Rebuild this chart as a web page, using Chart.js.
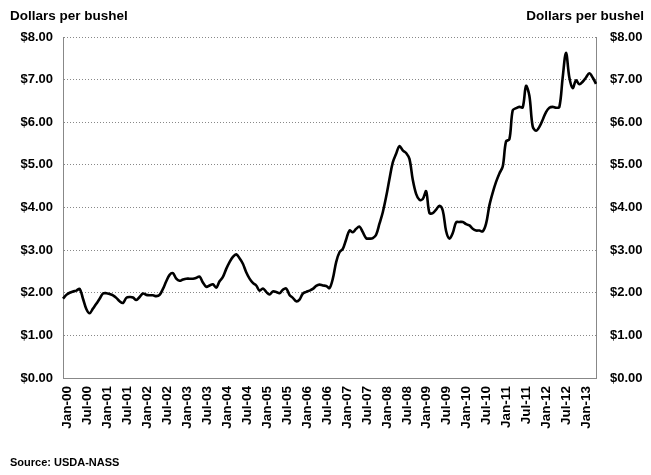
<!DOCTYPE html>
<html>
<head>
    <title>Dollars per bushel</title>
    <script src="https://cdn.jsdelivr.net/npm/chart.js"></script>
    <style>
        body { margin: 0; background: #fff; }
    </style>
</head>
<body>
    <canvas id="chart" width="651" height="475"></canvas>

    <script>
    // monthly prices, Jan-00 .. May-13
    const startYear = 2000;
    const monthNames = ['Jan','Feb','Mar','Apr','May','Jun','Jul','Aug','Sep','Oct','Nov','Dec'];

    const prices = [
        1.86, 1.95, 2.00, 2.03, 2.05, 2.09, 1.86, 1.62, 1.52, 1.63, 1.74, 1.86,   // 2000
        1.98, 1.99, 1.97, 1.94, 1.88, 1.80, 1.76, 1.88, 1.90, 1.89, 1.83, 1.90,   // 2001
        1.98, 1.95, 1.94, 1.94, 1.92, 1.95, 2.09, 2.27, 2.42, 2.46, 2.33, 2.28,   // 2002
        2.31, 2.33, 2.33, 2.33, 2.35, 2.38, 2.24, 2.14, 2.17, 2.20, 2.12, 2.27,   // 2003
        2.37, 2.56, 2.72, 2.84, 2.90, 2.81, 2.68, 2.48, 2.33, 2.23, 2.17, 2.05,   // 2004
        2.10, 2.02, 1.96, 2.03, 2.02, 1.99, 2.07, 2.10, 1.95, 1.88, 1.80, 1.84,   // 2005
        1.98, 2.02, 2.05, 2.09, 2.16, 2.19, 2.17, 2.16, 2.11, 2.33, 2.72, 2.95,   // 2006
        3.03, 3.25, 3.46, 3.42, 3.50, 3.55, 3.42, 3.28, 3.27, 3.28, 3.36, 3.62,   // 2007
        3.89, 4.25, 4.67, 5.06, 5.26, 5.44, 5.34, 5.28, 5.14, 4.65, 4.32, 4.18,   // 2008
        4.20, 4.38, 3.87, 3.87, 3.95, 4.04, 3.93, 3.45, 3.27, 3.40, 3.65, 3.66,   // 2009
        3.66, 3.61, 3.58, 3.50, 3.46, 3.46, 3.44, 3.62, 4.05, 4.35, 4.60, 4.80,   // 2010
        4.96, 5.55, 5.60, 6.28, 6.33, 6.36, 6.35, 6.85, 6.62, 5.90, 5.80, 5.89,   // 2011
        6.06, 6.24, 6.34, 6.36, 6.34, 6.36, 7.05, 7.63, 7.05, 6.80, 6.98, 6.89,   // 2012
        6.95, 7.05, 7.15, 7.05, 6.90                                              // 2013
    ];

    const months = prices.map((p, i) => {
        const y = startYear + Math.floor(i / 12);
        return monthNames[i % 12] + '-' + String(y % 100).padStart(2, '0');
    });

    const yTicks = [0, 1, 2, 3, 4, 5, 6, 7, 8];

    const labelFont = { family: 'Liberation Sans, Arial, sans-serif', size: 13, weight: 'bold' };
    const xFont = { family: 'Liberation Sans, Arial, sans-serif', size: 13.5, weight: 'bold' };
    const dotted = [1, 2];

    // header / source texts
    const textPlugin = {
        id: 'texts',
        afterDraw(chart) {
            const ctx = chart.ctx;
            ctx.save();
            ctx.fillStyle = '#000';
            ctx.textBaseline = 'middle';
            ctx.font = 'bold 13.5px "Liberation Sans", Arial, sans-serif';
            ctx.textAlign = 'left';
            ctx.fillText('Dollars per bushel', 10, 16);
            ctx.textAlign = 'right';
            ctx.fillText('Dollars per bushel', 644, 16);
            ctx.font = 'bold 11px "Liberation Sans", Arial, sans-serif';
            ctx.textAlign = 'left';
            ctx.fillText('Source: USDA-NASS', 10, 463);
            ctx.restore();
        }
    };

    function money(v) { return '$' + Number(v).toFixed(2); }

    const ctx = document.getElementById('chart').getContext('2d');
    new Chart(ctx, {
        type: 'line',
        data: {
            labels: months,
            datasets: [{
                label: 'Price',
                data: prices,
                borderColor: '#000',
                borderWidth: 2.6,
                pointRadius: 0,
                tension: 0.35,
                fill: false,
                yAxisID: 'y'
            }]
        },
        options: {
            responsive: false,
            animation: false,
            layout: { padding: { top: 37, left: 0, right: 0, bottom: 0 } },
            plugins: {
                legend: { display: false },
                tooltip: { enabled: false }
            },
            scales: {
                x: {
                    offset: false,
                    grid: { display: false, drawTicks: false },
                    border: { display: true, color: '#888', dash: dotted },
                    ticks: {
                        autoSkip: false,
                        maxRotation: 90,
                        minRotation: 90,
                        padding: 8,
                        labelOffset: 4,
                        color: '#000',
                        font: xFont,
                        callback: function(value, index) {
                            return index % 6 === 0 ? months[index] : '';
                        }
                    },
                    afterFit: function(scale) { scale.height = 97; }
                },
                y: {
                    position: 'left',
                    min: yTicks[0],
                    max: yTicks[yTicks.length - 1],
                    grid: { color: '#888', drawTicks: false },
                    border: { display: true, color: '#888', dash: dotted },
                    afterBuildTicks: function(scale) { scale.ticks = yTicks.map(v => ({ value: v })); },
                    ticks: {
                        padding: 10,
                        color: '#000',
                        font: labelFont,
                        callback: money
                    },
                    afterFit: function(scale) { scale.width = 63; }
                },
                y2: {
                    position: 'right',
                    min: yTicks[0],
                    max: yTicks[yTicks.length - 1],
                    grid: { display: false, drawTicks: false },
                    border: { display: true, color: '#888', dash: dotted },
                    afterBuildTicks: function(scale) { scale.ticks = yTicks.map(v => ({ value: v })); },
                    ticks: {
                        padding: 14,
                        color: '#000',
                        font: labelFont,
                        callback: money
                    },
                    afterFit: function(scale) { scale.width = 55; }
                }
            }
        },
        plugins: [textPlugin]
    });
    </script>
</body>
</html>
